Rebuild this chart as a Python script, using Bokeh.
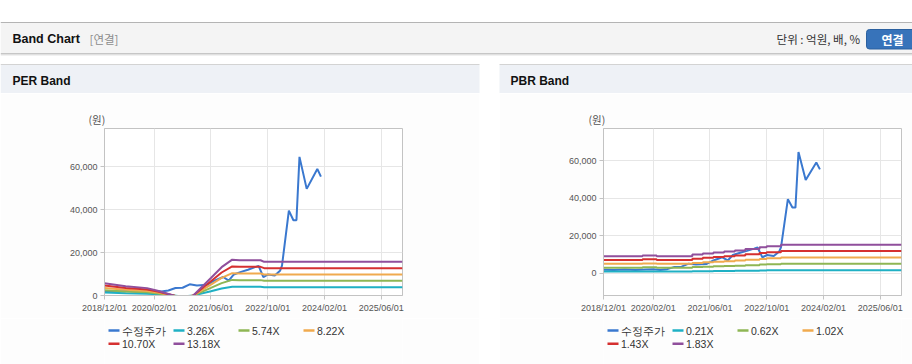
import datetime as dt
from bokeh.plotting import figure
from bokeh.layouts import column, row
from bokeh.models import Range1d, FixedTicker, NumeralTickFormatter, Spacer
from bokeh.core.properties import value
from bokeh.embed import file_html
from bokeh.resources import INLINE

# ---------------- data ----------------
x_tick_labels = ["2018/12/01", "2020/02/01", "2021/06/01", "2022/10/01",
                 "2024/02/01", "2025/06/01"]
x_range_labels = ["2018/12/01", "2025/12/01"]
y_tick_values = [0, 20000, 40000, 60000]

price_dates = ["2018-12-01", "2019-03-01", "2019-06-01", "2019-09-01",
               "2019-12-01", "2020-02-01", "2020-04-01", "2020-06-01",
               "2020-08-01", "2020-10-01", "2020-12-01", "2021-02-01",
               "2021-05-01", "2021-07-01", "2021-09-15", "2021-11-01",
               "2021-12-15", "2022-02-15", "2022-04-15", "2022-06-15",
               "2022-07-15", "2022-08-25", "2022-10-05", "2022-12-01",
               "2023-01-15", "2023-02-01", "2023-04-01", "2023-05-10",
               "2023-06-05", "2023-07-01", "2023-09-01", "2023-12-01",
               "2024-01-01"]
price_values = [2000, 1900, 2100, 1800, 2100, 2200, 1900, 2300,
                3500, 3600, 5200, 4700, 5000, 6900, 8600, 6900,
                9800, 11000, 12000, 13200, 13800, 8600, 9800, 9300,
                11500, 13900, 39500, 35000, 35000, 64500, 49600, 58900,
                55300]

per_dates = ["2018-12-01", "2019-06-01", "2019-12-01", "2020-03-01",
             "2020-07-15", "2020-10-01", "2021-01-01", "2021-06-01",
             "2021-09-01", "2021-12-01", "2022-02-01", "2022-08-01",
             "2022-09-01", "2025-12-01"]
per_labels = ["3.26X", "5.74X", "8.22X", "10.70X", "13.18X"]
per_band_1 = [1400, 1080, 850, 550, 0, -490, 0, 2020, 3260, 4120, 4060, 4060, 3880, 3880]
per_band_2 = [2470, 1890, 1490, 980, 0, -860, 0, 3560, 5740, 7260, 7150, 7150, 6830, 6830]
per_band_3 = [3530, 2710, 2140, 1400, 0, -1230, 0, 5100, 8220, 10400, 10230, 10230, 9780, 9780]
per_band_4 = [4600, 3530, 2780, 1820, 0, -1600, 0, 6630, 10700, 13540, 13320, 13320, 12730, 12730]
per_band_5 = [5670, 4350, 3430, 2240, 0, -1980, 0, 8170, 13180, 16670, 16410, 16410, 15680, 15680]

pbr_dates = ["2018-12-01", "2019-11-01", "2020-03-01", "2021-01-01",
             "2021-04-01", "2021-07-01", "2021-10-01", "2022-01-01",
             "2022-04-01", "2022-08-01", "2022-10-01", "2023-02-01",
             "2025-12-01"]
pbr_labels = ["0.21X", "0.62X", "1.02X", "1.43X", "1.83X"]
pbr_band_1 = [1050, 1100, 1050, 1160, 1220, 1280, 1340, 1410, 1490, 1600, 1660, 1740, 1740]
pbr_band_2 = [3100, 3260, 3100, 3410, 3600, 3780, 3970, 4150, 4400, 4710, 4900, 5150, 5150]
pbr_band_3 = [5100, 5360, 5100, 5610, 5920, 6220, 6530, 6830, 7240, 7750, 8060, 8470, 8470]
pbr_band_4 = [7150, 7510, 7150, 7870, 8290, 8720, 9150, 9580, 10150, 10870, 11300, 11870, 11870]
pbr_band_5 = [9150, 9610, 9150, 10070, 10610, 11160, 11710, 12260, 12990, 13910, 14460, 15190, 15190]

price_label = "수정주가"

# ---------------- styles ----------------
PRICE_COLOR = "#3a78cf"
BAND_COLORS = ["#1fb0c4", "#8eb654", "#f0aa4e", "#d53030", "#904f9c"]
BODY = "#fdfdfd"
LATIN = "Liberation Sans"
KR = "Noto Sans CJK KR"


def ms(s):
    s = s.replace("/", "-")
    d = dt.datetime.strptime(s, "%Y-%m-%d")
    return (d - dt.datetime(1970, 1, 1)).total_seconds() * 1000.0


def canvas(width, height, x0, x1, y0, bg, bl=0, br=0):
    """A figure whose frame data coordinates are page pixels (y grows downward)."""
    c = figure(width=width, height=height, x_range=Range1d(x0, x1),
               y_range=Range1d(y0 + height, y0), output_backend="svg",
               toolbar_location=None, min_border=0, min_border_left=bl,
               min_border_right=br, x_axis_location=None,
               y_axis_location=None, outline_line_color=None,
               background_fill_color=bg, border_fill_color=bg)
    c.grid.grid_line_color = None
    c.title.visible = False
    return c


# ---------------- header canvas ----------------
hdr = canvas(912, 93, 0, 912, 0, "white")
hdr.quad(left=[0], right=[912], top=[21.5], bottom=[22.5], fill_color="#b4b4b4", line_color=None)
hdr.quad(left=[0], right=[912], top=[22.5], bottom=[52.5], fill_color="#f4f4f4", line_color=None)
hdr.quad(left=[0], right=[912], top=[52.5], bottom=[53.5], fill_color="#c6c6c6", line_color=None)
hdr.quad(left=[0], right=[912], top=[53.5], bottom=[54.5], fill_color="#e0e0e0", line_color=None)
hdr.quad(left=[0], right=[912], top=[54.5], bottom=[55.5], fill_color="#f1f1f1", line_color=None)
for lft, rgt in [(0, 479), (499, 912)]:
    hdr.quad(left=[lft], right=[rgt], top=[63.5], bottom=[64.5], fill_color="#d3d3d3", line_color=None)
    hdr.quad(left=[lft], right=[rgt], top=[64.5], bottom=[93], fill_color="#eef1f6", line_color=None)
hdr.quad(left=[866], right=[918], top=[29], bottom=[48.5], fill_color="#3773ba",
         line_color="#2b609f", border_radius=3)

hdr.text(x=[12], y=[38.5], text=["Band Chart"], text_font=value(LATIN),
         text_font_style="bold", text_font_size="12.5px", text_color="#111111",
         text_baseline="middle")
hdr.text(x=[89], y=[38.5], text=["[연결]"], text_font=value(KR),
         text_font_size="11.5px", text_color="#8c8c8c", text_baseline="middle")
hdr.text(x=[859.5], y=[38.5], text=["단위 : 억원, 배, %"], text_font=value(KR),
         text_font_size="11.5px", text_color="#333333", text_baseline="middle",
         text_align="right")
hdr.text(x=[892], y=[38.5], text=["연결"], text_font=value(KR), text_font_style="bold",
         text_font_size="12px", text_color="white", text_baseline="middle",
         text_align="center")
hdr.text(x=[12, 510], y=[80, 80], text=["PER Band", "PBR Band"], text_font=value(LATIN),
         text_font_style="bold", text_font_size="12px", text_color="#111111",
         text_baseline="middle")


# ---------------- charts ----------------
def make_chart(width, bl, br, unit_offset, y0, y1, dates, bands, step):
    p = figure(width=width, height=225,
               x_range=Range1d(ms(x_range_labels[0]), ms(x_range_labels[1])),
               y_range=Range1d(y0, y1), title="(원)",
               output_backend="svg", toolbar_location=None,
               min_border_left=bl, min_border_right=br, min_border_top=35,
               min_border_bottom=23, background_fill_color="white",
               border_fill_color=BODY, outline_line_color="#c3c3c3")
    p.title.align = "left"
    p.title.offset = unit_offset
    p.title.text_font = KR
    p.title.text_font_size = "10.5px"
    p.title.text_font_style = "normal"
    p.title.text_color = "#555555"
    p.title.standoff = 3

    tick_ms = [ms(t) for t in x_tick_labels]
    p.xaxis.ticker = FixedTicker(ticks=tick_ms)
    p.xaxis.major_label_overrides = {t: lab for t, lab in zip(tick_ms, x_tick_labels)}
    p.yaxis.ticker = FixedTicker(ticks=y_tick_values)
    p.yaxis.formatter = NumeralTickFormatter(format="0,0")
    for ax in p.axis:
        ax.axis_line_color = "#c3c3c3"
        ax.major_tick_line_color = "#c3c3c3"
        ax.major_tick_out = 4
        ax.major_tick_in = 0
        ax.minor_tick_line_color = None
        ax.major_label_text_font = LATIN
        ax.major_label_text_font_size = "9px"
        ax.major_label_text_color = "#555555"
        ax.major_label_standoff = 3
    p.grid.grid_line_color = "#e6e6e6"

    p.line([ms(d) for d in price_dates], price_values, line_color=PRICE_COLOR,
           line_width=2)
    xs = [ms(d) for d in dates]
    for vals, col in zip(bands, BAND_COLORS):
        if step:
            p.step(xs, vals, mode="after", line_color=col, line_width=2)
        else:
            p.line(xs, vals, line_color=col, line_width=2)
    return p


def make_legend(width, bl, br, frame_left, frame_right, labels):
    """Legend strip under a chart (frame aligned with the chart's frame)."""
    lg = canvas(width, 46, frame_left, frame_right, 318, BODY, bl, br)
    names = [price_label] + labels
    colors = [PRICE_COLOR] + BAND_COLORS
    xs, ys = [], []
    for i in range(len(names)):
        xs.append(frame_left + 4 + 65 * (i % 4))
        ys.append(330 + 13.3 * (i // 4))
    lg.segment(x0=xs, y0=ys, x1=[x + 11 for x in xs], y1=ys, line_color=colors,
               line_width=2.5)
    lg.text(x=[x + 13.5 for x in xs], y=ys, text=names, text_font=value(LATIN),
            text_font_size="10.5px", text_color="#333333", text_baseline="middle")
    return lg


per = make_chart(479, 104, 77, -16, 0, 77700, per_dates,
                 [per_band_1, per_band_2, per_band_3, per_band_4, per_band_5], False)
pbr = make_chart(413, 104, 11, -15, -11700, 77000, pbr_dates,
                 [pbr_band_1, pbr_band_2, pbr_band_3, pbr_band_4, pbr_band_5], True)
per_leg = make_legend(479, 104, 77, 104, 402, per_labels)
pbr_leg = make_legend(413, 104, 11, 603, 901, pbr_labels)

layout = column(hdr, row(column(per, per_leg), Spacer(width=20, height=271),
                         column(pbr, pbr_leg)))

open("out.html", "w").write(file_html(layout, INLINE))
